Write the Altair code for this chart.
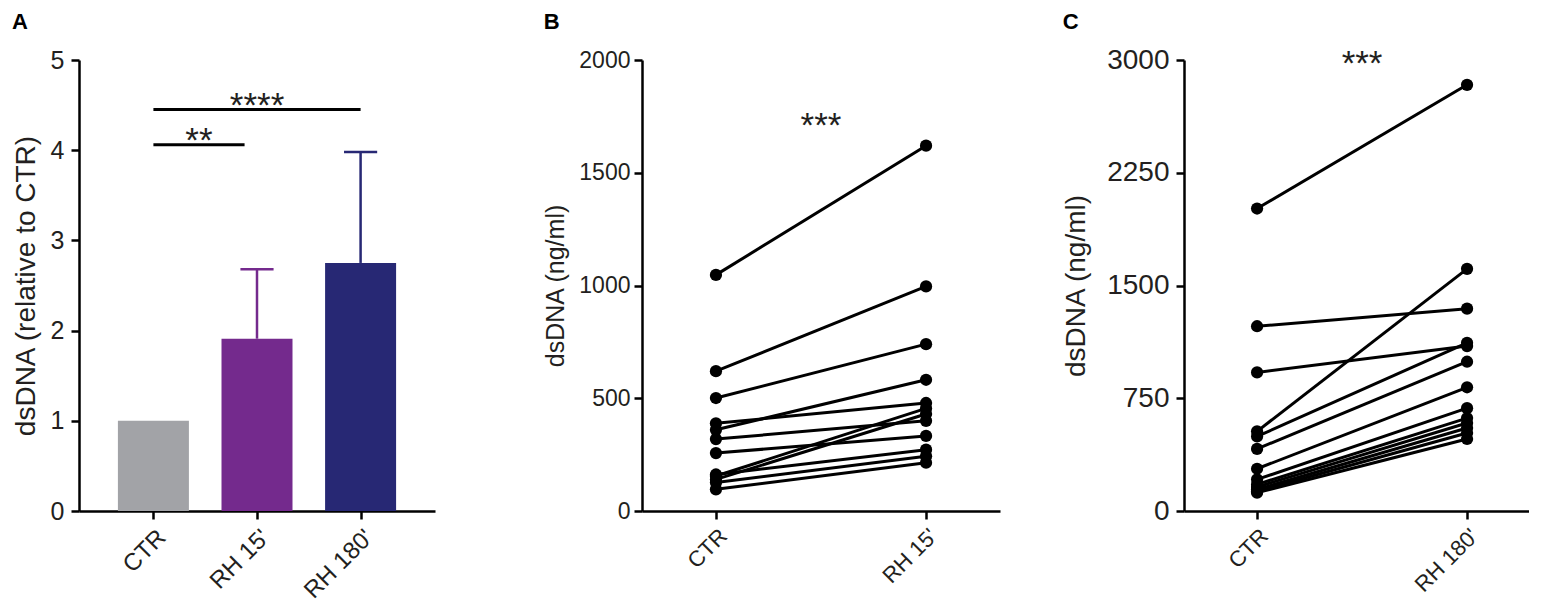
import json
import altair as alt
import pandas as pd

FONT = "Liberation Sans"
INK = "#231F20"

# ---------------- Panel A data ----------------
a_groups = ["CTR", "RH 15'", "RH 180'"]
a_means = [1.0, 1.91, 2.75]
a_err = [0.0, 0.77, 1.23]
a_colors = ["#A2A3A7", "#742A8D", "#272874"]
a_sig_start = [0, 0]
a_sig_end = [0.88, 2]
a_sig_level = [4.06, 4.45]
a_sig_label = ["**", "****"]

# ---------------- Panel B data ----------------
b_groups = ["CTR", "RH 15'"]
b_ctr = [1047, 620, 501, 360, 389, 155, 140, 319, 257, 162, 126, 96]
b_rh = [1620, 996, 740, 582, 479, 455, 430, 400, 333, 272, 243, 214]
b_sig_level = [1660]
b_sig_label = ["***"]

# ---------------- Panel C data ----------------
c_groups = ["CTR", "RH 180'"]
c_ctr = [2012, 1229, 922, 530, 496, 413, 281, 210, 177, 160, 144, 132, 122]
c_rh = [2835, 1346, 1097, 1611, 1119, 993, 823, 684, 618, 585, 552, 519, 479]
c_sig_level = [2900]
c_sig_label = ["***"]


def label_expr(groups):
    return "[" + ",".join(json.dumps(g) for g in groups) + "][datum.value]"


def x_enc(field, groups, domain, st):
    return alt.X(
        field,
        scale=alt.Scale(domain=domain, nice=False, zero=False),
        axis=alt.Axis(values=list(range(len(groups))), labelExpr=label_expr(groups),
                      labelAngle=-45, title=None, labelPadding=6,
                      labelFontSize=st["xlab"]),
    )


def y_enc(field, domain, ticks, title, st):
    return alt.Y(
        field,
        scale=alt.Scale(domain=domain, nice=False, zero=True),
        axis=alt.Axis(values=ticks, title=title, format="d",
                      labelFontSize=st["ylab"], titleFontSize=st["title"],
                      titlePadding=st["tpad"], labelPadding=st["lpad"]),
    )


def panel_title(letter, offset):
    return alt.Title(letter, anchor="start", frame="bounds", fontSize=22,
                     fontWeight="bold", font=FONT, color="black", offset=offset)


# ---------------- Panel A ----------------
stA = {"xlab": 24, "ylab": 25, "title": 28, "tpad": 10, "lpad": 7}
dfA = pd.DataFrame({"group": a_groups, "pos": list(range(len(a_groups))),
                    "mean": a_means, "err": a_err, "color": a_colors})
dfA["top"] = dfA["mean"] + dfA["err"]
dfSigA = pd.DataFrame({"start": a_sig_start, "end": a_sig_end,
                       "level": a_sig_level, "label": a_sig_label})

A_dom = [-0.67, 2.67]
A_title = "dsDNA (relative to CTR)"
A_ticks = [0, 1, 2, 3, 4, 5]

barsA = alt.Chart(dfA).mark_bar(size=71).encode(
    x=x_enc("pos:Q", a_groups, A_dom, stA),
    y=y_enc("mean:Q", [0, 5], A_ticks, A_title, stA),
    color=alt.Color("color:N", scale=None),
)
errA = alt.Chart(dfA[dfA["err"] > 0]).mark_rule(strokeWidth=2.5).encode(
    x=x_enc("pos:Q", a_groups, A_dom, stA),
    y=y_enc("mean:Q", [0, 5], A_ticks, A_title, stA),
    y2="top:Q",
    color=alt.Color("color:N", scale=None),
)
capA = alt.Chart(dfA[dfA["err"] > 0]).transform_calculate(
    l="datum.pos - 0.16", r="datum.pos + 0.16"
).mark_rule(strokeWidth=2.5).encode(
    x=x_enc("l:Q", a_groups, A_dom, stA),
    x2="r:Q",
    y=y_enc("top:Q", [0, 5], A_ticks, A_title, stA),
    color=alt.Color("color:N", scale=None),
)
sigA = alt.Chart(dfSigA).mark_rule(strokeWidth=3, color="black").encode(
    x=x_enc("start:Q", a_groups, A_dom, stA),
    x2="end:Q",
    y=y_enc("level:Q", [0, 5], A_ticks, A_title, stA),
)
sigTextA = alt.Chart(dfSigA).transform_calculate(
    mid="(datum.start + datum.end) / 2"
).mark_text(fontSize=35, font=FONT, baseline="alphabetic", dy=7, color=INK).encode(
    x=x_enc("mid:Q", a_groups, A_dom, stA),
    y=y_enc("level:Q", [0, 5], A_ticks, A_title, stA),
    text="label:N",
)
panelA = alt.layer(barsA, errA, capA, sigA, sigTextA).properties(
    width=356, height=451, title=panel_title("A", 14))


# ---------------- Paired panels ----------------
def paired_panel(letter, groups, ctr, rh, sig_level, sig_label, ydom, yticks,
                 width, xdom, st, toff):
    n = len(ctr)
    df = pd.DataFrame({
        "subject": list(range(n)) * 2,
        "pos": [0] * n + [1] * n,
        "value": list(ctr) + list(rh),
    })
    dfs = pd.DataFrame({"mid": [0.5] * len(sig_level), "level": sig_level, "label": sig_label})
    title = "dsDNA (ng/ml)"
    lines = alt.Chart(df).mark_line(color="black", strokeWidth=3).encode(
        x=x_enc("pos:Q", groups, xdom, st),
        y=y_enc("value:Q", ydom, yticks, title, st),
        detail="subject:N",
    )
    pts = alt.Chart(df).mark_circle(color="black", size=150, opacity=1).encode(
        x=x_enc("pos:Q", groups, xdom, st),
        y=y_enc("value:Q", ydom, yticks, title, st),
    )
    txt = alt.Chart(dfs).mark_text(fontSize=35, font=FONT, baseline="alphabetic", color=INK).encode(
        x=x_enc("mid:Q", groups, xdom, st),
        y=y_enc("level:Q", ydom, yticks, title, st),
        text="label:N",
    )
    return alt.layer(lines, pts, txt).properties(
        width=width, height=451, title=panel_title(letter, toff))


stB = {"xlab": 22, "ylab": 23, "title": 25, "tpad": 10, "lpad": 4}
stC = {"xlab": 22, "ylab": 28, "title": 28, "tpad": 16, "lpad": 7}

panelB = paired_panel("B", b_groups, b_ctr, b_rh, b_sig_level, b_sig_label,
                      [0, 2000], [0, 500, 1000, 1500, 2000], 358, [-0.352, 1.352], stB, 15)
panelC = paired_panel("C", c_groups, c_ctr, c_rh, c_sig_level, c_sig_label,
                      [0, 3000], [0, 750, 1500, 2250, 3000], 345, [-0.348, 1.295], stC, 12)

chart = alt.hconcat(panelA, alt.hconcat(panelB, panelC, spacing=62), spacing=108).properties(
    padding={"left": 4, "top": 3, "right": 0, "bottom": 0}
).configure_view(stroke=None).configure_axis(
    grid=False,
    domainColor="black", domainWidth=2.5,
    tickColor="black", tickWidth=2.5, tickSize=8,
    labelFont=FONT, labelColor=INK,
    titleFont=FONT, titleFontWeight="normal", titleColor=INK,
)

chart.save("out.html", embed_options={"renderer": "svg", "actions": False})
